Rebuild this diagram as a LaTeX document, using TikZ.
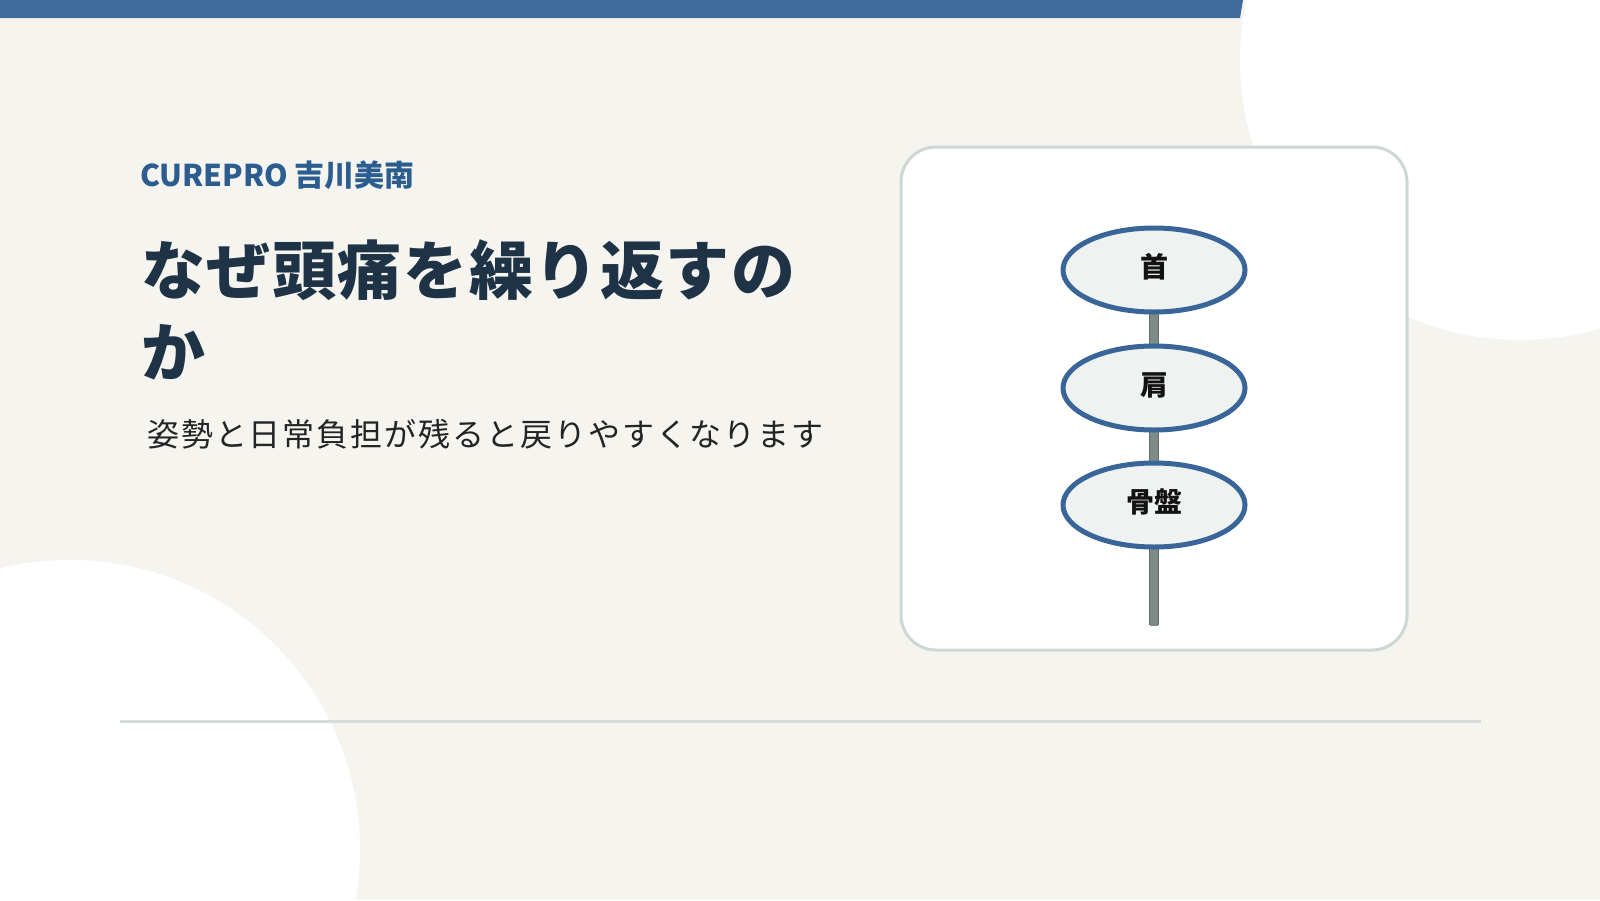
\documentclass[tikz,border=0pt]{standalone}
\usepackage{fontspec}
\setmainfont{Noto Sans CJK JP}
\usetikzlibrary{shapes.geometric}
\definecolor{bgcream}{HTML}{F5F4EF}
\definecolor{barblue}{HTML}{3F6C9C}
\definecolor{brandblue}{HTML}{2C5D8F}
\definecolor{titlenavy}{HTML}{1F3347}
\definecolor{subdark}{HTML}{222426}
\definecolor{cardline}{HTML}{CDD8D5}
\definecolor{rulegrey}{HTML}{D3DCDA}
\definecolor{ovalfill}{HTML}{EEF2F1}
\definecolor{ovalline}{HTML}{3A6598}
\definecolor{stemgrey}{HTML}{7E8C87}
\definecolor{stemdark}{HTML}{5E6A66}
\pgfdeclarelayer{bglayer}
\pgfdeclarelayer{midlayer}
\pgfsetlayers{bglayer,midlayer,main}
\tikzset{
  oval/.style={ellipse, draw=ovalline, fill=ovalfill, line width=5pt,
    minimum width=182pt, minimum height=84pt, inner sep=0pt,
    text depth=0pt, text height=0pt},
  ovallabel/.style={inner sep=0pt, text=black!93,
    font=\fontsize{28}{32}\selectfont\bfseries},
  stemline/.style={line width=10pt, draw=stemdark},
  steminner/.style={line width=8pt, draw=stemgrey},
  brandtext/.style={anchor=west, inner sep=0pt, text=brandblue,
    font=\fontsize{30}{34}\selectfont\bfseries},
  titletext/.style={anchor=west, inner sep=0pt, text=titlenavy,
    font=\fontsize{64}{76}\selectfont\bfseries\addfontfeature{LetterSpace=2.5}},
  subtext/.style={anchor=west, inner sep=0pt, text=subdark,
    font=\fontsize{32}{36}\selectfont\addfontfeature{LetterSpace=6}},
}
\begin{document}
\begin{tikzpicture}[x=1pt,y=-1pt]
\useasboundingbox (0,0) rectangle (1600,900);
\begin{pgfonlayer}{bglayer}
  \clip (0,0) rectangle (1600,900);
  \fill[bgcream] (0,0) rectangle (1600,900);
  \fill[white] (1520,60) circle[radius=280];
  \fill[white] (70,850) circle[radius=290];
  \fill[barblue] (0,0) -- (1243,0) -- (1240,18) -- (0,18) -- cycle;
  \draw[cardline, line width=3pt, fill=white, rounded corners=35pt]
    (901,147) rectangle (1407,650);
  \draw[rulegrey, line width=3pt] (120,721) -- (1481,721);
\end{pgfonlayer}

\node[brandtext] (brand) at (140,175) {CUREPRO 吉川美南};
\node[titletext] (title1) at (141,270) {なぜ頭痛を繰り返すの};
\node[titletext] (title2) at (141,352) {か};
\node[subtext] (sub) at (147,434) {姿勢と日常負担が残ると戻りやすくなります};

\node[oval] (neck) at (1154,270) {};
\node[oval] (shoulder) at (1154,388) {};
\node[oval] (pelvis) at (1154,505) {};
\node[ovallabel] (necklabel) at ([yshift=3pt]neck.center) {首};
\node[ovallabel] (shoulderlabel) at ([yshift=3pt]shoulder.center) {肩};
\node[ovallabel] (pelvislabel) at ([yshift=3pt]pelvis.center) {骨盤};
\coordinate (stemend) at (1154,625);

\begin{pgfonlayer}{midlayer}
  \draw[stemline] (neck.center) -- (shoulder.center) -- (pelvis.center) -- (stemend);
  \draw[steminner] (neck.center) -- (shoulder.center) -- (pelvis.center) -- ([yshift=-1pt]stemend);
\end{pgfonlayer}
\end{tikzpicture}
\end{document}
